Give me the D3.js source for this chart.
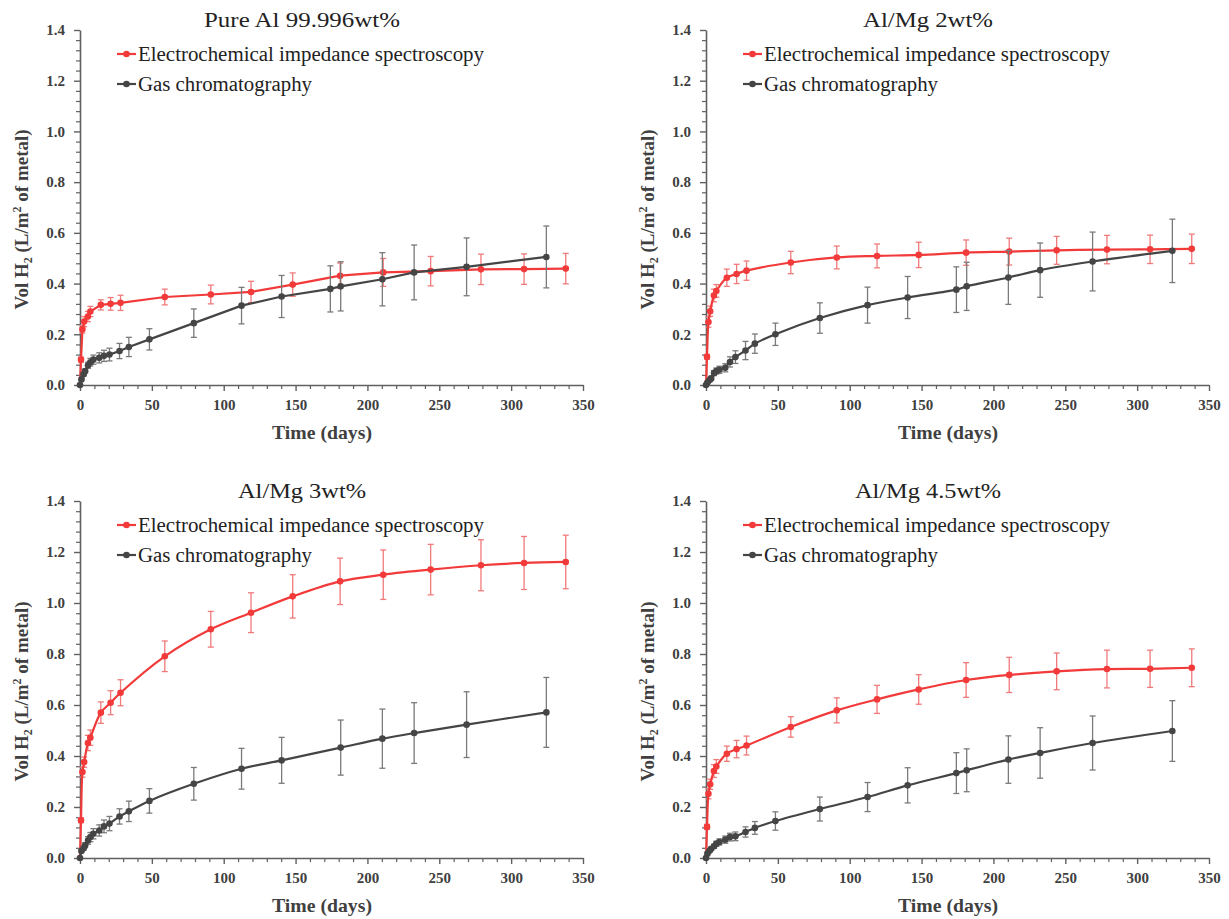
<!DOCTYPE html>
<html><head><meta charset="utf-8">
<script src="https://cdn.jsdelivr.net/npm/d3@7"></script>
<style>body{margin:0;background:#fff;} svg{display:block;}</style>
</head><body>
<svg id="chart" width="1229" height="919"></svg>
<script>
// ---------- DATA ----------
const titles = ["Pure Al 99.996wt%", "Al/Mg 2wt%", "Al/Mg 3wt%", "Al/Mg 4.5wt%"];
const seriesNames = ["Electrochemical impedance spectroscopy", "Gas chromatography"];
const xTicks = [0, 50, 100, 150, 200, 250, 300, 350];
const yTicks = [0, 0.2, 0.4, 0.6, 0.8, 1.0, 1.2, 1.4];

const eisDays = [0, 0.7, 1.7, 2.9, 5.5, 7.2, 14.5, 21.3, 28.2, 59, 91, 119, 148, 181, 211, 244, 279, 309, 338];
const eis1 = [0, 0.10, 0.22, 0.25, 0.27, 0.29, 0.316, 0.32, 0.324, 0.347, 0.357, 0.367, 0.396, 0.431, 0.444, 0.449, 0.456, 0.457, 0.459];
const eis2 = [0, 0.111, 0.248, 0.291, 0.353, 0.371, 0.423, 0.438, 0.451, 0.483, 0.503, 0.509, 0.513, 0.522, 0.526, 0.531, 0.534, 0.535, 0.537];
const eis3 = [0, 0.148, 0.337, 0.376, 0.451, 0.472, 0.570, 0.609, 0.648, 0.791, 0.897, 0.962, 1.026, 1.085, 1.111, 1.131, 1.148, 1.157, 1.161];
const eis4 = [0, 0.122, 0.252, 0.289, 0.341, 0.359, 0.409, 0.427, 0.441, 0.514, 0.579, 0.622, 0.661, 0.698, 0.718, 0.732, 0.741, 0.742, 0.746];
const eisErr1 = [0, 0.01, 0.015, 0.02, 0.02, 0.02, 0.02, 0.025, 0.03, 0.031, 0.037, 0.042, 0.046, 0.05, 0.055, 0.058, 0.06, 0.06, 0.06];
const eisErr2 = [0, 0.01, 0.02, 0.02, 0.025, 0.025, 0.034, 0.038, 0.038, 0.044, 0.045, 0.047, 0.05, 0.05, 0.053, 0.055, 0.056, 0.056, 0.058];
const eisErr3 = [0, 0.01, 0.02, 0.02, 0.03, 0.03, 0.042, 0.047, 0.051, 0.06, 0.07, 0.078, 0.085, 0.091, 0.097, 0.099, 0.1, 0.104, 0.105];
const eisErr4 = [0, 0.01, 0.02, 0.02, 0.025, 0.027, 0.03, 0.034, 0.037, 0.04, 0.049, 0.055, 0.058, 0.068, 0.069, 0.072, 0.074, 0.073, 0.074];

const gcDays = [0, 1, 2.5, 3.6, 5.6, 7.2, 9.3, 13.4, 16.7, 20.5, 27.5, 34, 48.3, 79.2, 112.4, 140.3, 174.2, 181.4, 210.4, 232.5, 269, 324.5];
const gc1 = [0, 0.022, 0.042, 0.055, 0.078, 0.09, 0.10, 0.107, 0.115, 0.12, 0.134, 0.15, 0.18, 0.244, 0.313, 0.349, 0.379, 0.389, 0.417, 0.444, 0.466, 0.505];
const gc2 = [0, 0.01, 0.02, 0.026, 0.047, 0.055, 0.06, 0.068, 0.091, 0.11, 0.136, 0.163, 0.2, 0.264, 0.315, 0.345, 0.376, 0.389, 0.424, 0.453, 0.487, 0.529];
const gc3 = [0, 0.027, 0.038, 0.05, 0.069, 0.082, 0.095, 0.108, 0.124, 0.135, 0.163, 0.183, 0.224, 0.291, 0.35, 0.383, null, 0.433, 0.468, 0.49, 0.523, 0.571];
const gc4 = [0, 0.017, 0.028, 0.036, 0.046, 0.056, 0.063, 0.072, 0.082, 0.085, 0.102, 0.118, 0.145, 0.192, 0.239, 0.285, 0.333, 0.344, 0.386, 0.412, 0.451, 0.498];
const gcErr1 = [0, 0.004, 0.006, 0.008, 0.012, 0.015, 0.018, 0.02, 0.022, 0.025, 0.03, 0.038, 0.042, 0.056, 0.072, 0.083, 0.091, 0.097, 0.105, 0.108, 0.114, 0.122];
const gcErr2 = [0, 0.004, 0.006, 0.008, 0.01, 0.012, 0.014, 0.016, 0.02, 0.025, 0.036, 0.038, 0.044, 0.06, 0.071, 0.083, 0.09, 0.095, 0.106, 0.107, 0.116, 0.125];
const gcErr3 = [0, 0.005, 0.007, 0.01, 0.015, 0.018, 0.02, 0.022, 0.025, 0.028, 0.03, 0.04, 0.048, 0.064, 0.08, 0.09, null, 0.108, 0.116, 0.119, 0.129, 0.137];
const gcErr4 = [0, 0.004, 0.005, 0.006, 0.008, 0.01, 0.012, 0.014, 0.015, 0.017, 0.02, 0.025, 0.036, 0.047, 0.057, 0.069, 0.08, 0.084, 0.093, 0.099, 0.106, 0.119];

const smoothed = [false, true, true, true];

// ---------- LAYOUT ----------
const panels = [
  {left: 80, right: 583, top: 30, bottom: 385},
  {left: 706, right: 1209, top: 30, bottom: 385},
  {left: 80, right: 583, top: 501, bottom: 858},
  {left: 706, right: 1209, top: 501, bottom: 858}
];
const titleW = [196, 130, 128, 146];
const RED = "#f23a3a", RED_ERR = "#f07a7a", GREY = "#454545", GREY_ERR = "#7a7a7a";
const FONT = "'Liberation Serif', 'DejaVu Serif', serif";

const eisVals = [eis1, eis2, eis3, eis4], eisErrs = [eisErr1, eisErr2, eisErr3, eisErr4];
const gcVals = [gc1, gc2, gc3, gc4], gcErrs = [gcErr1, gcErr2, gcErr3, gcErr4];

const svg = d3.select("#chart");

panels.forEach((p, i) => {
  const x = d3.scaleLinear().domain([0, 350]).range([p.left, p.right]);
  const y = d3.scaleLinear().domain([0, 1.4]).range([p.bottom, p.top]);
  const g = svg.append("g");

  // minor ticks
  const xMinor = d3.range(0, 351, 10).filter(v => v % 50 !== 0);
  const yMinor = d3.range(0, 1.401, 0.04).filter(v => Math.abs(v / 0.2 - Math.round(v / 0.2)) > 1e-6);
  g.append("g").attr("transform", `translate(0,${p.bottom})`)
    .call(d3.axisBottom(x).tickValues(xMinor).tickSize(4).tickFormat(""))
    .call(a => a.select(".domain").remove())
    .call(a => a.selectAll("line").attr("stroke", "#606060").attr("stroke-width", 1.2));
  g.append("g").attr("transform", `translate(${p.left},0)`)
    .call(d3.axisLeft(y).tickValues(yMinor).tickSize(4).tickFormat(""))
    .call(a => a.select(".domain").remove())
    .call(a => a.selectAll("line").attr("stroke", "#606060").attr("stroke-width", 1.2));

  // major axes
  const xa = g.append("g").attr("transform", `translate(0,${p.bottom})`)
    .call(d3.axisBottom(x).tickValues(xTicks).tickSize(6).tickSizeOuter(0).tickPadding(8).tickFormat(d3.format("d")));
  const ya = g.append("g").attr("transform", `translate(${p.left},0)`)
    .call(d3.axisLeft(y).tickValues(yTicks).tickSize(6).tickSizeOuter(0).tickPadding(9).tickFormat(d3.format(".1f")));
  [xa, ya].forEach(a => {
    a.select(".domain").attr("stroke", "#606060").attr("stroke-width", 1.6);
    a.selectAll("line").attr("stroke", "#606060").attr("stroke-width", 1.4);
    a.selectAll("text").attr("font-family", FONT).attr("font-size", 15).attr("font-weight", "bold").attr("fill", "#404040");
  });

  // title
  g.append("text").attr("x", p.left + 222).attr("y", p.top - 3).attr("text-anchor", "middle")
    .attr("font-family", FONT).attr("font-size", 22).attr("fill", "#222")
    .attr("textLength", titleW[i]).attr("lengthAdjust", "spacingAndGlyphs").text(titles[i]);

  // axis titles
  g.append("text").attr("x", p.left + 242).attr("y", p.bottom + 54).attr("text-anchor", "middle")
    .attr("font-family", FONT).attr("font-size", 19).attr("font-weight", "bold").attr("fill", "#404040")
    .attr("textLength", 100).attr("lengthAdjust", "spacingAndGlyphs").text("Time (days)");
  const yt = g.append("text")
    .attr("transform", `translate(${p.left - 52},${(p.top + p.bottom) / 2 + 12}) rotate(-90)`)
    .attr("text-anchor", "middle").attr("font-family", FONT).attr("font-size", 19).attr("font-weight", "bold").attr("fill", "#404040");
  yt.append("tspan").text("Vol H");
  yt.append("tspan").attr("font-size", 12).attr("dy", 4).text("2");
  yt.append("tspan").attr("dy", -4).text(" (L/m");
  yt.append("tspan").attr("font-size", 12).attr("dy", -7).text("2");
  yt.append("tspan").attr("dy", 7).text(" of metal)");

  // series
  const series = [
    {days: eisDays, vals: eisVals[i], errs: eisErrs[i], color: RED, errColor: RED_ERR},
    {days: gcDays, vals: gcVals[i], errs: gcErrs[i], color: GREY, errColor: GREY_ERR}
  ];
  const curve = smoothed[i] ? d3.curveCatmullRom.alpha(0.5) : d3.curveLinear;
  series.forEach(s => {
    const pts = s.days.map((d, k) => ({d, v: s.vals[k], e: s.errs[k]})).filter(o => o.v !== null);
    const eb = g.append("g").attr("stroke", s.errColor).attr("stroke-width", 1.3);
    pts.filter(o => o.e > 0).forEach(o => {
      eb.append("line").attr("x1", x(o.d)).attr("x2", x(o.d)).attr("y1", y(o.v - o.e)).attr("y2", y(o.v + o.e));
      [o.v - o.e, o.v + o.e].forEach(t => eb.append("line").attr("x1", x(o.d) - 3).attr("x2", x(o.d) + 3).attr("y1", y(t)).attr("y2", y(t)));
    });
    g.append("path").datum(pts).attr("fill", "none").attr("stroke", s.color).attr("stroke-width", 2.2)
      .attr("d", d3.line().x(o => x(o.d)).y(o => y(o.v)).curve(curve));
    g.selectAll(null).data(pts.filter(o => o.v > 0 || s.color === GREY)).enter().append("circle")
      .attr("cx", o => x(o.d)).attr("cy", o => y(o.v)).attr("r", 3.3).attr("fill", s.color);
  });

  // legend
  seriesNames.forEach((name, k) => {
    const ly = p.top + 24 + k * 30;
    const col = k === 0 ? RED : GREY;
    g.append("line").attr("x1", p.left + 37).attr("x2", p.left + 56).attr("y1", ly).attr("y2", ly)
      .attr("stroke", col).attr("stroke-width", 2.2);
    g.append("circle").attr("cx", p.left + 46.5).attr("cy", ly).attr("r", 3.3).attr("fill", col);
    g.append("text").attr("x", p.left + 58).attr("y", ly + 7).attr("font-family", FONT).attr("font-size", 20)
      .attr("fill", "#222").attr("textLength", k === 0 ? 346 : 174).attr("lengthAdjust", "spacingAndGlyphs").text(name);
  });
});
</script>
</body></html>
